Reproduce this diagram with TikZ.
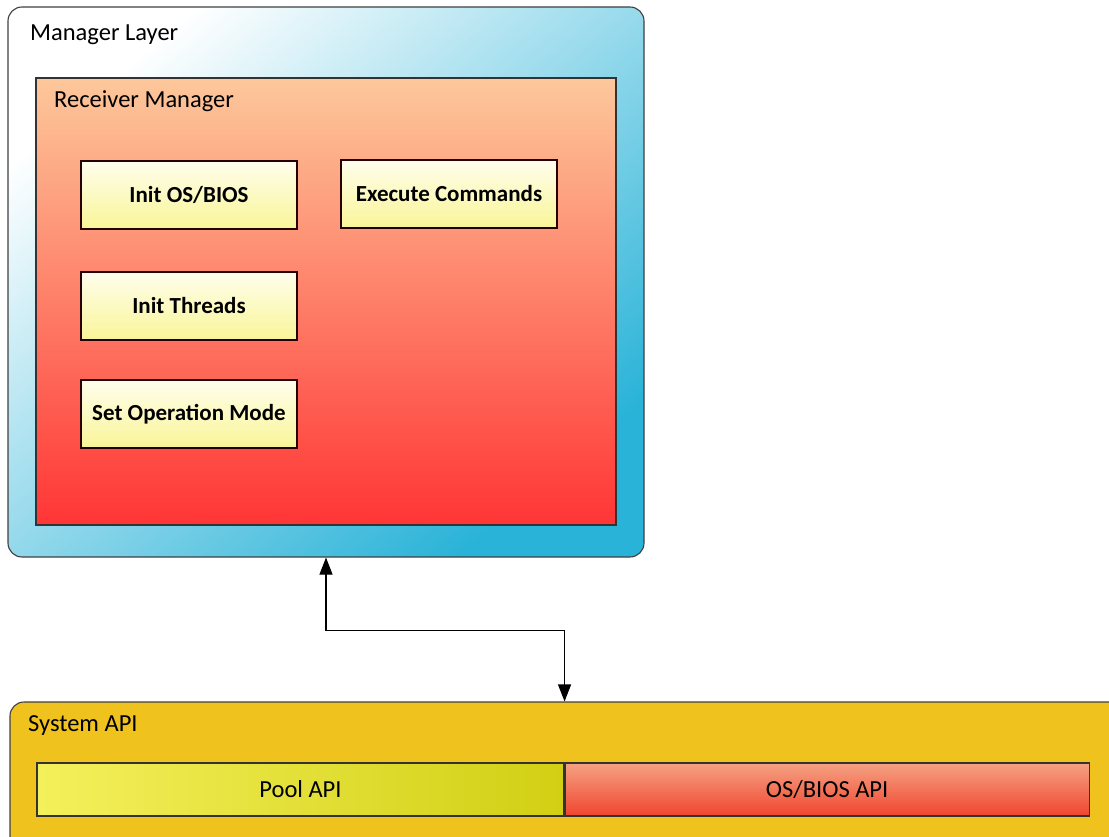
\documentclass[tikz,border=0pt]{standalone}
\usepackage{fontspec}
\setmainfont{Carlito}
\usetikzlibrary{arrows.meta}

\definecolor{layercyan}{HTML}{2AB3D8}
\definecolor{layerpale}{HTML}{A6DEEF}
\definecolor{mgrpeach}{HTML}{FDC89B}
\definecolor{mgrred}{HTML}{FF3535}
\definecolor{taskpale}{HTML}{FFFEEC}
\definecolor{taskyellow}{HTML}{F9F598}
\definecolor{apigold}{HTML}{F0C21E}
\definecolor{poolyellow}{HTML}{F4F05C}
\definecolor{poolgreen}{HTML}{D2CF14}
\definecolor{biossalmon}{HTML}{F5A283}
\definecolor{biosred}{HTML}{F0452F}

\begin{document}
\begin{tikzpicture}[x=1pt, y=-1pt,
    layer/.style={rectangle, rounded corners=14pt, draw=black!75, line width=1.1pt, inner sep=0pt},
    block/.style={rectangle, draw=black!80, line width=1.1pt, inner sep=0pt},
    task/.style={block, draw=black!85!red, top color=taskpale, bottom color=taskyellow, minimum width=216, minimum height=68, font=\fontsize{23}{27}\selectfont\bfseries},
    caption/.style={anchor=west, inner sep=0pt, font=\fontsize{24.5}{28}\selectfont},
    link/.style={{Triangle[length=17pt, width=13pt]}-{Triangle[length=17pt, width=13pt]}, line width=1.1pt, black}]
  \clip (0,0) rectangle (1109,837);

  % manager layer
  \node (mgr) [layer, top color=white, middle color=layerpale, bottom color=layercyan, shading angle=40, minimum width=636, minimum height=550] at (326,282) {};
  \node (mgrlabel) [caption] at (30,35) {Manager Layer};

  \node (recv) [block, top color=mgrpeach, bottom color=mgrred, minimum width=580, minimum height=447] at (326,301.5) {};
  \node (recvlabel) [caption] at (54,101) {Receiver Manager};

  \node (initos) [task] at (189,195) {Init OS/BIOS};
  \node (exec) [task] at (449,194) {Execute Commands};
  \node (threads) [task] at (189,306) {Init Threads};
  \node (opmode) [task] at (189,414) {Set Operation Mode};

  % system api
  \node (sysapi) [layer, fill=apigold, minimum width=1120, minimum height=170] at (570,787) {};
  \node (syslabel) [caption] at (28,726) {System API};

  \node (pool) [block, left color=poolyellow, right color=poolgreen, minimum width=527, minimum height=53, font=\fontsize{24.5}{28}\selectfont] at (300.5,789.5) {Pool API};
  \node (bios) [block, top color=biossalmon, bottom color=biosred, minimum width=524, minimum height=53, font=\fontsize{24.5}{28}\selectfont, anchor=west] at (pool.east) {OS/BIOS API};

  \draw [link] (mgr.south) -- ++(0,73) -| (pool.east |- sysapi.north);
\end{tikzpicture}
\end{document}
